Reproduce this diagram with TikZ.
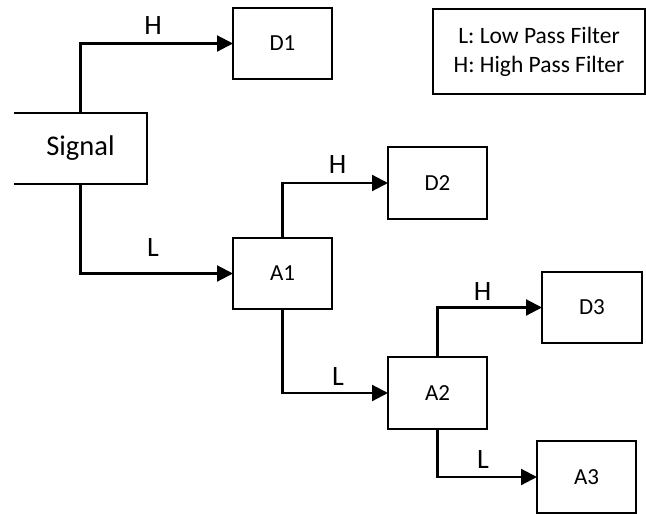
\documentclass[tikz,border=0pt]{standalone}
\usepackage{fontspec}
\setmainfont{Carlito}
\usetikzlibrary{arrows.meta}
\begin{document}
\begin{tikzpicture}[x=1pt,y=-1pt,
  box/.style={draw=black, line width=2pt, fill=white, outer sep=0pt, minimum width=99pt, minimum height=71pt, inner sep=0pt, font=\fontsize{23}{25}\selectfont},
  conn/.style={line width=2.2pt, -{Triangle[length=16pt,width=16pt]}},
  lbl/.style={inner sep=0pt, font=\fontsize{28}{30}\selectfont}]
\useasboundingbox (0,0) rectangle (646,514);
% boxes
\node[box, draw=none, minimum width=133pt, font=\fontsize{28.5}{30}\selectfont] (sig) at (80.5,148.5) {Signal};
\draw[line width=2pt] (sig.north west) -- (sig.north east) -- (sig.south east) -- (sig.south west);
\node[box] (d1) at (282.5,43.5) {D1};
\node[box, minimum height=72pt] (d2) at (437.5,183) {D2};
\node[box] (a1) at (282.5,273.5) {A1};
\node[box, minimum width=100pt] (d3) at (592,307.5) {D3};
\node[box, minimum height=72pt] (a2) at (437.5,393) {A2};
\node[box, minimum height=72pt] (a3) at (586.5,477) {A3};
\node[box, minimum width=212pt, minimum height=85pt, align=center, font=\fontsize{23.5}{29}\selectfont] (leg) at (539,51.5) {L: Low Pass Filter\\H: High Pass Filter};
% connectors
\draw[conn] (sig.north) |- (d1.west);
\draw[conn] (sig.south) |- (a1.west);
\draw[conn] (a1.north) |- (d2.west);
\draw[conn] (a1.south) |- (a2.west);
\draw[conn] (a2.north) |- (d3.west);
\draw[conn] (a2.south) |- (a3.west);
% labels
\node[lbl] (h1) at (153,26) {H};
\node[lbl] (l1) at (153,247.5) {L};
\node[lbl] (h2) at (337.5,164.5) {H};
\node[lbl] (l2) at (338,377) {L};
\node[lbl] (h3) at (482.5,291.5) {H};
\node[lbl] (l3) at (483,460) {L};
\end{tikzpicture}
\end{document}
